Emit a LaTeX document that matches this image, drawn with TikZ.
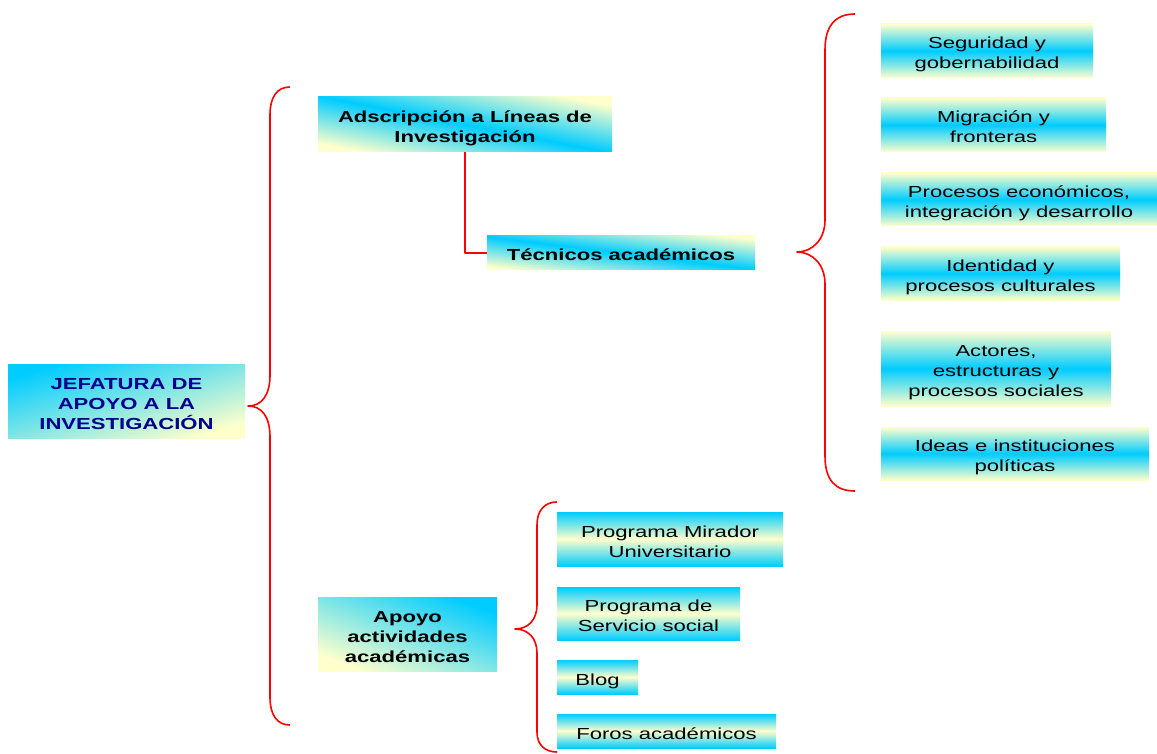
\documentclass[tikz,border=0pt]{standalone}
\usepackage{fontspec}
\setmainfont{Liberation Sans}[FakeStretch=1.38]
\definecolor{boxcyan}{RGB}{0,204,255}
\definecolor{boxcream}{RGB}{255,255,204}
\definecolor{headblue}{RGB}{0,0,140}

\begin{document}
\begin{tikzpicture}[x=1pt, y=-1pt,
    boxtext/.style={inner sep=0pt, align=center, font=\fontsize{16}{20}\selectfont, text depth=1pt, text height=17pt},
    twolines/.style={text height=37pt},
    threelines/.style={text height=57pt},
    boldtext/.style={boxtext, font=\fontsize{16}{20}\selectfont\bfseries},
    headbox/.style={boldtext, text=headblue, top color=boxcyan, bottom color=boxcream, shading angle=17},
    branchbox/.style={boldtext, top color=boxcream, bottom color=boxcream, middle color=boxcyan, shading angle=#1},
    supportbox/.style={boldtext, top color=boxcyan, bottom color=boxcream, shading angle=-22},
    topicbox/.style={boxtext, top color=boxcream, bottom color=boxcream, middle color=boxcyan},
    taskbox/.style={boxtext, top color=boxcyan, bottom color=boxcyan, middle color=boxcream},
    bracelink/.style={red, line width=1.6pt, line join=round}]
    \useasboundingbox (0,0) rectangle (1157,754);

    % Head of the chart
    \node[headbox, threelines, minimum width=237, minimum height=74] (jefatura) at (126.5,401) {JEFATURA DE\\APOYO A LA\\INVESTIGACIÓN};

    % Upper branch with the research lines
    \node[branchbox=-11, twolines, minimum width=294, minimum height=55] (adscripcion) at (465,124.5) {Adscripción a Líneas de\\Investigación};
    \node[branchbox=-7, minimum width=268, minimum height=34] (tecnicos) at (621,253) {Técnicos académicos};
    \node[topicbox, twolines, minimum width=212, minimum height=54] (seguridad) at (987,51) {Seguridad y\\gobernabilidad};
    \node[topicbox, twolines, minimum width=225, minimum height=54] (migracion) at (993.5,125) {Migración y\\fronteras};
    \node[topicbox, twolines, minimum width=276, minimum height=53] (procesos) at (1019,199.5) {Procesos económicos,\\integración y desarrollo};
    \node[topicbox, twolines, minimum width=239, minimum height=53] (identidad) at (1000.5,273.5) {Identidad y\\procesos culturales};
    \node[topicbox, threelines, minimum width=230, minimum height=75] (actores) at (996,368.5) {Actores,\\estructuras y\\procesos sociales};
    \node[topicbox, twolines, minimum width=268, minimum height=53] (ideas) at (1015,453.5) {Ideas e instituciones\\políticas};

    % Lower branch with the academic activities
    \node[supportbox, threelines, minimum width=179, minimum height=74] (apoyo) at (407.5,634) {Apoyo\\actividades\\académicas};
    \node[taskbox, twolines, minimum width=226, minimum height=54] (mirador) at (670,539) {Programa Mirador\\Universitario};
    \node[taskbox, twolines, minimum width=183, minimum height=53] (servicio) at (648.5,613.5) {Programa de\\Servicio social};
    \node[taskbox, minimum width=81, minimum height=34] (blog) at (597.5,677) {Blog};
    \node[taskbox, minimum width=219, minimum height=34] (foros) at (666.5,731) {Foros académicos};

    % Connectors
    \draw[bracelink] (adscripcion.south) |- (tecnicos.west);

    \coordinate (headtip) at (248,406);
    \draw[bracelink] (290,87) .. controls (277,87) and (270,97) .. (270,115) -- (270,375)
        .. controls (270,395) and (262,406) .. (headtip)
        .. controls (262,406) and (270,417) .. (270,437) -- (270,697)
        .. controls (270,715) and (277,725) .. (290,725);

    \coordinate (lineastip) at (797,252);
    \draw[bracelink] (855,14) .. controls (836,14) and (825,25) .. (825,50) -- (825,220)
        .. controls (825,240) and (812,252) .. (lineastip)
        .. controls (812,252) and (825,264) .. (825,284) -- (825,456)
        .. controls (825,481) and (836,491) .. (855,491);

    \coordinate (apoyotip) at (515,629);
    \draw[bracelink] (557,502) .. controls (545,502) and (537,510) .. (537,525) -- (537,605)
        .. controls (537,620) and (528,629) .. (apoyotip)
        .. controls (528,629) and (537,638) .. (537,653) -- (537,732)
        .. controls (537,745) and (545,752) .. (557,752);
\end{tikzpicture}
\end{document}
